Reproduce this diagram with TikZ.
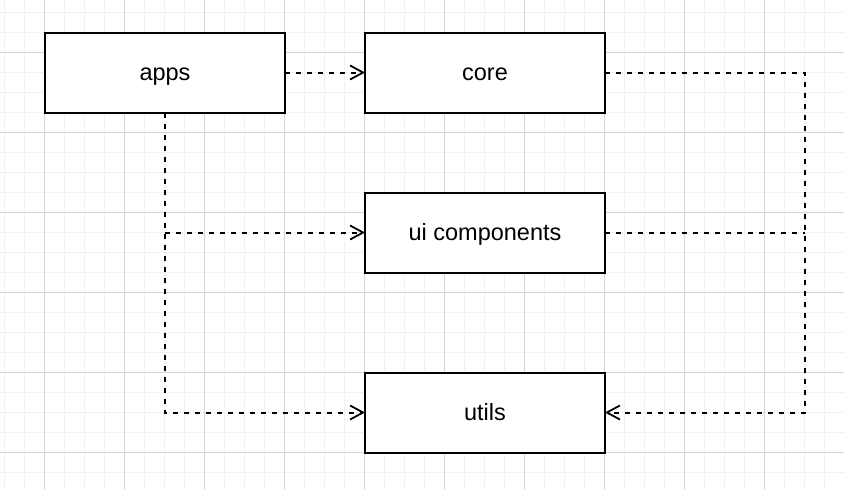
\documentclass[tikz,border=0pt]{standalone}
\usepackage{fontspec}
\setmainfont{Liberation Sans}
\usetikzlibrary{positioning, arrows.meta}
\definecolor{gridminor}{RGB}{242,242,242}
\definecolor{gridmajor}{RGB}{212,212,212}

\begin{document}
\begin{tikzpicture}[
  x=1pt, y=-1pt,
  font=\fontsize{23.5}{28}\selectfont,
  pkg/.style={draw, line width=2pt, fill=white, minimum width=240pt,
              minimum height=80pt, outer sep=0pt, inner sep=0pt,
              text height=18pt, text depth=2pt},
  dline/.style={line width=2pt, dash pattern=on 5pt off 6pt},
  dep/.style={dline,
              -{Straight Barb[length=13pt, width=14pt, line width=1.8pt]}},
]
\useasboundingbox (0,0) rectangle (844,490);
\fill[white] (0,0) rectangle (844,490);
% background grid
\foreach \gx in {4,24,...,844} \draw[gridminor, line width=1pt] (\gx,0) -- (\gx,490);
\foreach \gy in {12,32,...,490} \draw[gridminor, line width=1pt] (0,\gy) -- (844,\gy);
\foreach \gx in {44,124,...,844} \draw[gridmajor, line width=1pt] (\gx,0) -- (\gx,490);
\foreach \gy in {52,132,...,490} \draw[gridmajor, line width=1pt] (0,\gy) -- (844,\gy);

\node[pkg] (apps) at (165,72.5) {apps};
\node[pkg, right=80pt of apps] (core) {core};
\node[pkg, below=80pt of core] (ui) {ui components};
\node[pkg, below=100pt of ui] (utils) {utils};

\coordinate (split) at (apps.south |- ui.west);
\coordinate[right=200pt of core.east] (rside);

\draw[dep] (apps) -- (core);
\draw[dep] (apps.south) |- (utils.west);
\draw[dep] (split) -- (ui.west);
\draw[dep] (core.east) -- (rside) |- (utils.east);
\draw[dline] (ui.east) -- (ui.east -| rside);
\end{tikzpicture}
\end{document}
